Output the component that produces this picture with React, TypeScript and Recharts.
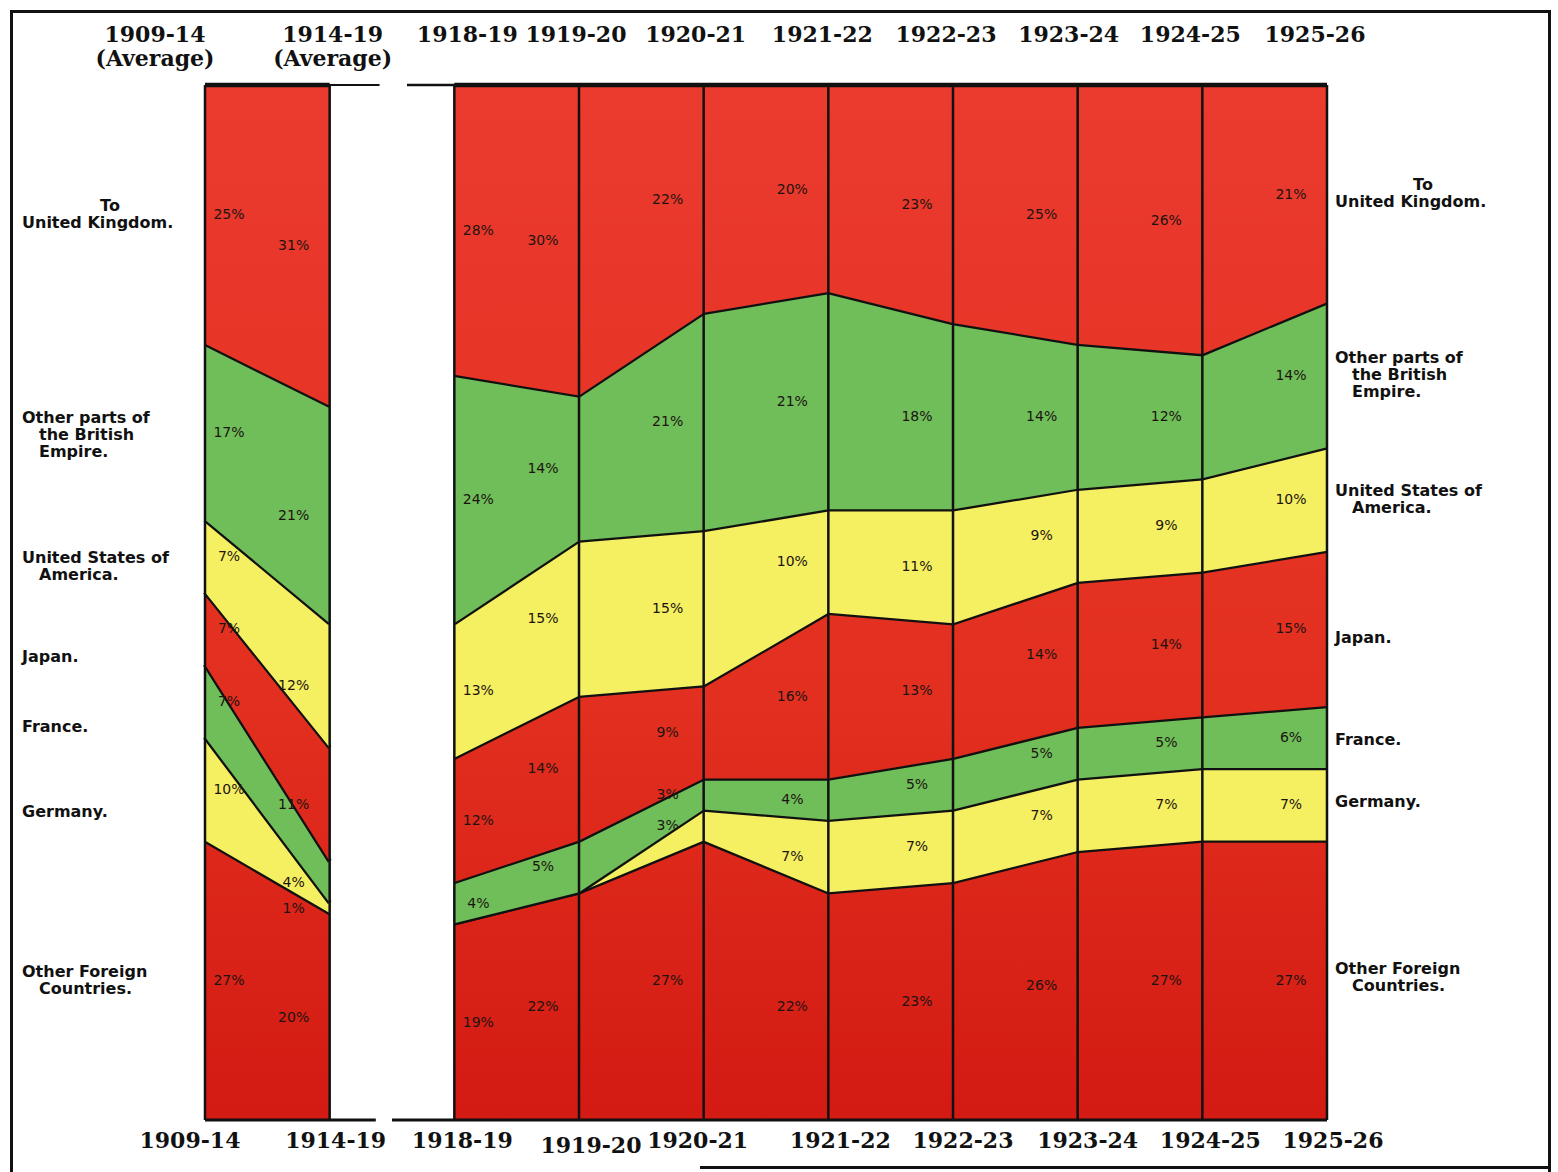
import React from "react";
import { Area, AreaChart, ReferenceDot, ReferenceLine, XAxis, YAxis } from "recharts";

// Distribution of exports by destination, per cent of total value
const years = ["1909-14", "1914-19", "1918-19", "1919-20", "1920-21", "1921-22", "1922-23", "1923-24", "1924-25", "1925-26"];
const yearNotes = ["(Average)", "(Average)", "", "", "", "", "", "", "", ""];

const unitedKingdom = [25, 31, 28, 30, 22, 20, 23, 25, 26, 21];
const otherEmpire = [17, 21, 24, 14, 21, 21, 18, 14, 12, 14];
const unitedStates = [7, 12, 13, 15, 15, 10, 11, 9, 9, 10];
const japan = [7, 11, 12, 14, 9, 16, 13, 14, 14, 15];
const france = [7, 4, 4, 5, 3, 4, 5, 5, 5, 6];
const germany = [10, 1, 0, 0, 3, 7, 7, 7, 7, 7];
const otherForeign = [27, 20, 19, 22, 27, 22, 23, 26, 27, 27];

// the war years are missing between 1914-19 and 1918-19
const gapAfter = 1;

const RED = "url(#redFill)";
const GREEN = "#6fbe5a";
const YELLOW = "#f5ef62";

// bottom of the stack first
const series = [
  { key: "otherForeign", values: otherForeign, fill: RED, name: ["Other Foreign", "Countries."] },
  { key: "germany", values: germany, fill: YELLOW, name: ["Germany."] },
  { key: "france", values: france, fill: GREEN, name: ["France."] },
  { key: "japan", values: japan, fill: RED, name: ["Japan."] },
  { key: "unitedStates", values: unitedStates, fill: YELLOW, name: ["United States of", "America."] },
  { key: "otherEmpire", values: otherEmpire, fill: GREEN, name: ["Other parts of", "the British", "Empire."] },
  { key: "unitedKingdom", values: unitedKingdom, fill: RED, name: ["To", "United Kingdom."] },
];

const rows: Record<string, number | undefined>[] = [];
years.forEach((_, i) => {
  const row: Record<string, number> = { pos: i };
  series.forEach((s) => (row[s.key] = s.values[i]));
  rows.push(row);
  if (i === gapAfter) rows.push({ pos: i + 0.5 });
});

// middle of each band at each column
const mids = series.map((s, k) =>
  years.map((_, i) => {
    let below = 0;
    for (let j = 0; j < k; j++) below += series[j].values[i];
    return below + s.values[i] / 2;
  })
);

const ticks = years.map((_, i) => i);
const topShift = [-50, 3, 13, -3, -8, -6, -7, -9, -12, -12];
const bottomShift = [-15, 6, 8, 12, -6, 12, 10, 10, 8, 6];
const leftNudge = [0, 23, 26, 29, 11, 3, 0];
const rightNudge = [-3, -2, 3, 10, 0, 0, 0];

const serif = { fontFamily: "'DejaVu Serif', serif", fontWeight: 700, fontSize: 22, fill: "#111" };
const sideFont = { fontFamily: "'DejaVu Sans', sans-serif", fontWeight: 700, fontSize: 16, fill: "#111" };
const handFont = { fontFamily: "'DejaVu Sans', sans-serif", fontSize: 14, fill: "#1d1410" };

function TopTick(props: any) {
  const { x, y, payload } = props;
  const i = payload.value as number;
  return (
    <g>
      <text x={x + topShift[i]} y={y - 35} textAnchor="middle" style={serif}>
        {years[i]}
      </text>
      {yearNotes[i] && (
        <text x={x + topShift[i]} y={y - 11} textAnchor="middle" style={serif}>
          {yearNotes[i]}
        </text>
      )}
    </g>
  );
}

function BottomTick(props: any) {
  const { x, y, payload } = props;
  const i = payload.value as number;
  return (
    <text x={x + bottomShift[i]} y={y + 20 + (i === 3 ? 5 : 0)} textAnchor="middle" style={serif}>
      {years[i]}
    </text>
  );
}

function sideLabel(lines: string[], offsetX: number, shift: number) {
  return (p: any) => {
    const startX = p.cx + offsetX;
    const top = p.cy + shift - ((lines.length - 1) * 17) / 2 + 5;
    return (
      <g>
        {lines.map((line, n) => {
          const centred = line === "To";
          return (
            <text
              key={n}
              x={centred ? startX + 88 : startX + (n > 0 && lines[0] !== "To" ? 17 : 0)}
              y={top + n * 17}
              textAnchor={centred ? "middle" : "start"}
              style={sideFont}
            >
              {line}
            </text>
          );
        })}
      </g>
    );
  };
}

function pctLabel(text: string, dx: number) {
  return (p: any) => (
    <text x={p.cx + dx} y={p.cy + 5} textAnchor="middle" style={handFont}>
      {text}
    </text>
  );
}

export default function App() {
  return (
    <div style={{ position: "absolute", left: 0, top: 0, width: 1558, height: 1172, background: "#fff" }}>
      <div
        style={{
          position: "absolute",
          left: 10,
          top: 10,
          width: 1535,
          height: 1162,
          borderTop: "3px solid #111",
          borderLeft: "3px solid #111",
          borderRight: "3px solid #111",
        }}
      />
      <div style={{ position: "absolute", left: 700, top: 1166, width: 848, height: 3, background: "#111" }} />
      <AreaChart
        width={1558}
        height={1172}
        data={rows}
        margin={{ top: 15, right: 231, bottom: 12, left: 205 }}
        style={{ position: "absolute", left: 0, top: 0 }}
      >
        <defs>
          <linearGradient id="redFill" gradientUnits="userSpaceOnUse" x1="0" y1="85" x2="0" y2="1120">
            <stop offset="0%" stopColor="#eb3b2f" />
            <stop offset="60%" stopColor="#e22f1f" />
            <stop offset="100%" stopColor="#d31a13" />
          </linearGradient>
        </defs>
        <XAxis
          type="number"
          dataKey="pos"
          domain={[0, 9]}
          ticks={ticks}
          interval={0}
          axisLine={false}
          tickLine={false}
          height={40}
          tick={(p: any) => <BottomTick {...p} />}
        />
        <XAxis
          xAxisId="top"
          orientation="top"
          type="number"
          dataKey="pos"
          domain={[0, 9]}
          ticks={ticks}
          interval={0}
          axisLine={false}
          tickLine={false}
          height={70}
          tick={(p: any) => <TopTick {...p} />}
        />
        <YAxis hide type="number" domain={[0, 100]} />
        {series.map((s) => (
          <Area
            key={s.key}
            type="linear"
            dataKey={s.key}
            stackId="share"
            fill={s.fill}
            fillOpacity={1}
            stroke="#111"
            strokeWidth={4.5}
            dot={false}
            activeDot={false}
            isAnimationActive={false}
          />
        ))}
        {ticks.map((i) => (
          <ReferenceLine key={"v" + i} x={i} stroke="#111" strokeWidth={2.5} />
        ))}
        <ReferenceLine segment={[{ x: 0, y: 0 }, { x: 1.37, y: 0 }]} stroke="#111" strokeWidth={3} />
        <ReferenceLine segment={[{ x: 1.5, y: 0 }, { x: 9, y: 0 }]} stroke="#111" strokeWidth={3} />
        <ReferenceLine segment={[{ x: 0, y: 100 }, { x: 1.4, y: 100 }]} stroke="#111" strokeWidth={2} />
        <ReferenceLine segment={[{ x: 1.62, y: 100 }, { x: 9, y: 100 }]} stroke="#111" strokeWidth={2.5} />
        {series.map((s, k) =>
          s.values.map((v, i) =>
            v > 0 ? (
              <ReferenceDot
                key={s.key + i}
                x={i}
                y={mids[k][i]}
                r={0}
                shape={pctLabel(`${v}%`, i === 0 || i === gapAfter + 1 ? 24 : -36)}
              />
            ) : null
          )
        )}
        {series.map((s, k) => (
          <ReferenceDot key={"l" + s.key} x={0} y={mids[k][0]} r={0} shape={sideLabel(s.name, -183, leftNudge[k])} />
        ))}
        {series.map((s, k) => (
          <ReferenceDot key={"r" + s.key} x={9} y={mids[k][9]} r={0} shape={sideLabel(s.name, 8, rightNudge[k])} />
        ))}
      </AreaChart>
    </div>
  );
}
